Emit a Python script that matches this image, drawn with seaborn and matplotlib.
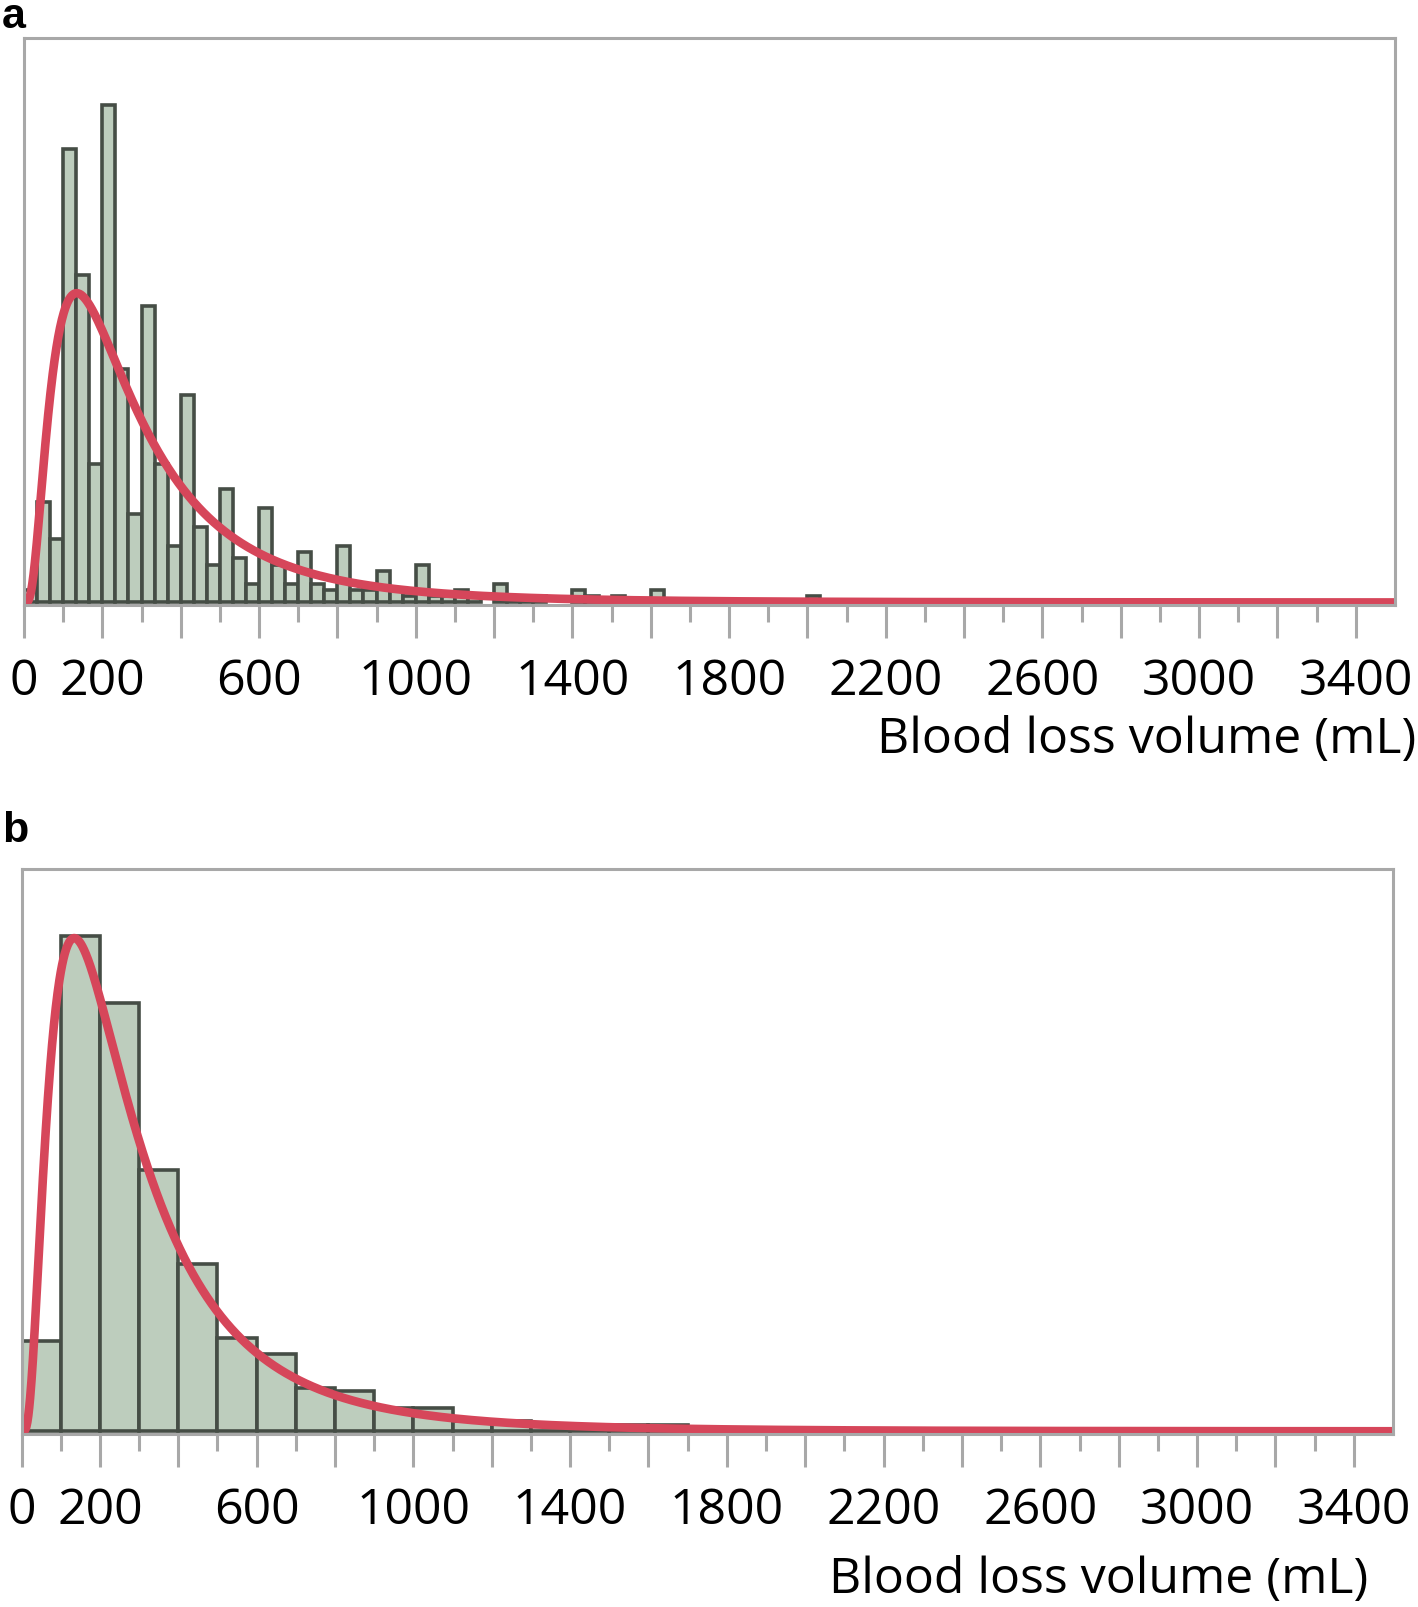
import numpy as np
import pandas as pd
import matplotlib
matplotlib.use("Agg")
import matplotlib.pyplot as plt
import seaborn as sns
from matplotlib.ticker import FixedLocator, FixedFormatter

# ---------------- data ----------------
# Panel a: histogram with bins of 100/3 mL starting at 0
bin_width_a = 100.0 / 3.0
counts_a = [2, 16, 10, 72, 52, 22, 79, 37, 14, 47,
            22, 9, 33, 12, 6, 18, 7, 3, 15, 6,
            3, 8, 3, 2, 9, 2, 2, 5, 2, 1,
            6, 1, 1, 2, 1, 0, 3, 1, 1, 1,
            0, 0, 2, 1, 0, 1, 0, 0, 2, 0,
            0, 0, 0, 0, 0, 0, 0, 0, 0, 0,
            1]

# Panel b: histogram with bins of 100 mL starting at 0
bin_width_b = 100.0
counts_b = [27, 148, 128, 78, 50, 28, 23, 13, 12, 7,
            7, 3, 3, 2, 2, 2, 2, 0, 0, 0,
            1]

# Fitted lognormal curve (parameters)
logn_mu = 5.51
logn_sigma = 0.78
n_fit = 525

major_ticks = list(range(0, 3401, 200))
minor_ticks = list(range(100, 3301, 200))
tick_labels = ["0", "200", "", "600", "", "1000", "", "1400", "", "1800",
               "", "2200", "", "2600", "", "3000", "", "3400"]
x_label = "Blood loss volume (mL)"
panel_labels = ["a", "b"]

# ---------------- style ----------------
FILL = "#bdcdbd"
EDGE = "#454d45"
RED = "#d6465a"
GRAY = "#a8a8a8"

sns.set_theme(style="white")
plt.rcParams["font.family"] = ["Open Sans", "DejaVu Sans"]

W, H = 1418, 1607
fig = plt.figure(figsize=(W / 100, H / 100), dpi=100)


def px_axes(l, t, r, b):
    return fig.add_axes([l / W, 1 - b / H, (r - l) / W, (b - t) / H])


ax_a = px_axes(24, 38, 1395, 605)
ax_b = px_axes(21.5, 869, 1393, 1434)


def lognorm_pdf(x, mu, sigma):
    return np.exp(-(np.log(x) - mu) ** 2 / (2 * sigma ** 2)) / (x * sigma * np.sqrt(2 * np.pi))


def draw_panel(ax, counts, width, ylim):
    n = len(counts)
    centers = (np.arange(n) + 0.5) * width
    df = pd.DataFrame({"volume": centers, "count": counts})
    sns.histplot(data=df, x="volume", weights="count", binwidth=width,
                 binrange=(0, n * width), ax=ax,
                 color=FILL, edgecolor=EDGE, linewidth=2.6, alpha=1)
    for p in ax.patches:
        if p.get_height() <= 0:
            p.set_visible(False)
    xs = np.linspace(1, 3500, 3000)
    curve = pd.DataFrame({"volume": xs,
                          "fit": n_fit * width * lognorm_pdf(xs, logn_mu, logn_sigma)})
    sns.lineplot(data=curve, x="volume", y="fit", ax=ax, color=RED,
                 linewidth=6.2, solid_capstyle="round")
    ax.set_xlim(0, 3500)
    ax.set_ylim(*ylim)
    ax.set_xlabel("")
    ax.set_ylabel("")
    ax.set_yticks([])
    ax.xaxis.set_major_locator(FixedLocator(major_ticks))
    ax.xaxis.set_major_formatter(FixedFormatter(tick_labels))
    ax.xaxis.set_minor_locator(FixedLocator(minor_ticks))
    ax.tick_params(axis="x", which="major", direction="out", length=24, width=2.2,
                   color=GRAY, labelsize=36, labelcolor="black", pad=13.5, bottom=True)
    ax.tick_params(axis="x", which="minor", direction="out", length=12, width=2.2,
                   color=GRAY, bottom=True)
    for s in ax.spines.values():
        s.set_color(GRAY)
        s.set_linewidth(2.2)
        s.set_visible(True)


draw_panel(ax_a, counts_a, bin_width_a, (-0.4, 89.6))
draw_panel(ax_b, counts_b, bin_width_b, (-0.8, 167.9))

fig.text(1416 / W, 1 - 740 / H, x_label, ha="right", va="center",
         fontsize=36, color="black")
fig.text(1368 / W, 1 - 1580 / H, x_label, ha="right", va="center",
         fontsize=36, color="black")

fig.text(2 / W, 1 - 28 / H, panel_labels[0], ha="left", va="baseline", color="black",
         fontsize=31, fontweight="bold", family=["Liberation Sans", "DejaVu Sans"])
fig.text(2 / W, 1 - 842 / H, panel_labels[1], ha="left", va="baseline", color="black",
         fontsize=31, fontweight="bold", family=["Liberation Sans", "DejaVu Sans"])

fig.savefig("out.png", dpi=100)
